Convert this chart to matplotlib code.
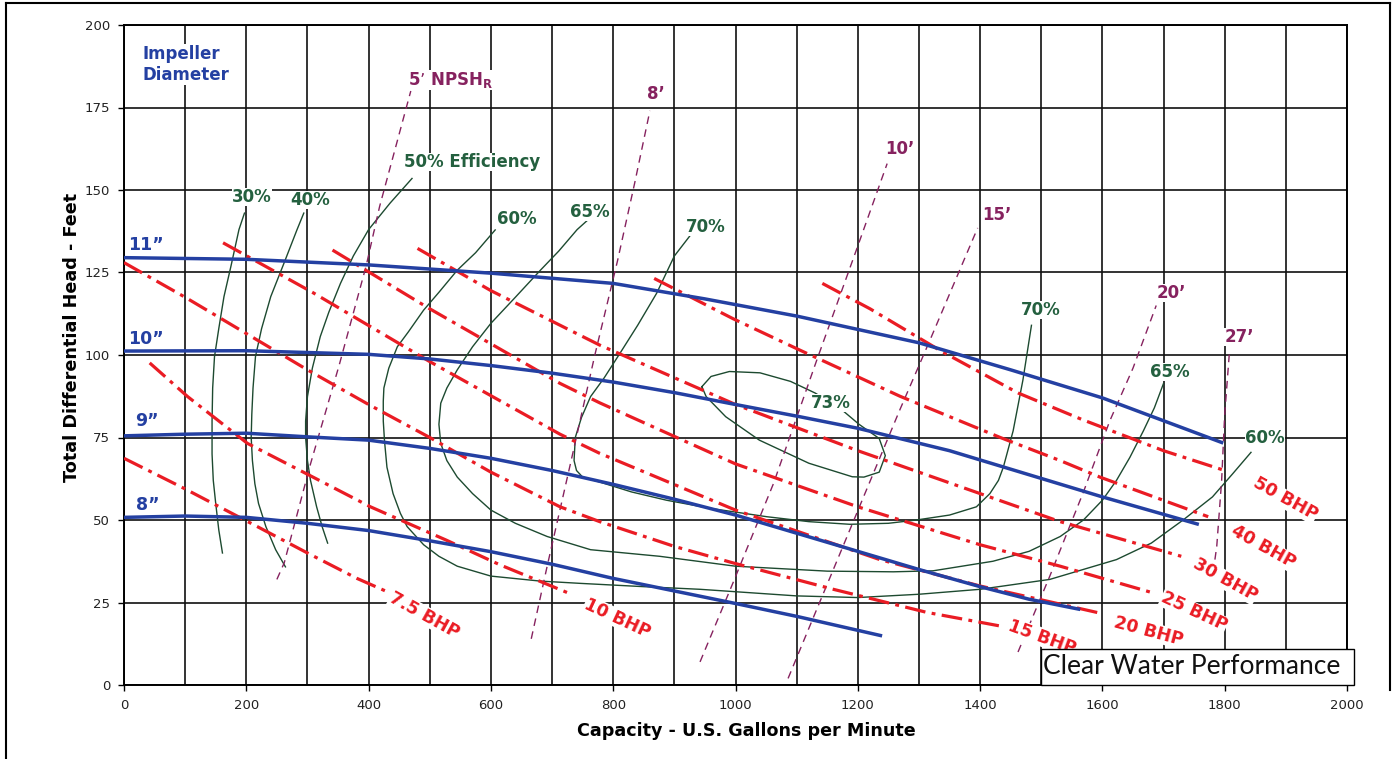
import numpy as np
import matplotlib.pyplot as plt
from matplotlib.lines import Line2D
from matplotlib.patches import Rectangle

# impeller diameter curves (gpm, ft)
d11_q = [0, 200, 400, 600, 800, 950, 1100, 1300, 1450, 1600, 1795]
d11_h = [129.5, 129, 127.3, 124.8, 121.7, 117, 111.8, 103.7, 95.5, 87, 73.5]
d10_q = [0, 200, 400, 500, 600, 700, 800, 900, 1000, 1105, 1200, 1350, 1600, 1755]
d10_h = [101.2, 101.3, 100.2, 98.8, 96.8, 94.5, 91.8, 88.6, 85, 81.3, 77.8, 71, 57, 48.8]
d9_q = [0, 100, 200, 300, 400, 500, 600, 700, 800, 900, 1000, 1100, 1200, 1300, 1400, 1480, 1561]
d9_h = [75.5, 76, 76.3, 75.2, 74.2, 71.7, 68.7, 65, 60.8, 56.3, 51.5, 46, 40.5, 35, 29.8, 26, 23]
d8_q = [0, 100, 200, 300, 400, 500, 600, 700, 800, 900, 1000, 1100, 1237]
d8_h = [50.8, 51.2, 50.8, 49, 46.8, 43.7, 40.4, 36.6, 32.3, 28.5, 24.7, 20.8, 15]

# brake horsepower lines
b75_q = [0, 98, 218, 300, 381, 430]
b75_h = [68.7, 59.6, 48, 40, 32.3, 28.3]
b10_q = [42, 104, 202, 308, 403, 527, 615, 725]
b10_h = [97.6, 87.4, 73.2, 63.1, 54, 43.9, 36.4, 28]
b15_q = [0, 100, 200, 300, 400, 500, 600, 713, 778, 900, 996, 1160, 1313, 1438]
b15_h = [128, 117.5, 106.5, 95.5, 85, 75, 64.5, 54, 49.5, 42, 37, 29, 22, 17.7]
b20_q = [162, 308, 500, 713, 778, 1000, 1236, 1400, 1598]
b20_h = [134, 119, 98, 76, 70.2, 53, 38, 30, 21.7]
b25_q = [341, 500, 713, 778, 1000, 1200, 1400, 1531, 1685]
b25_h = [131.8, 114, 91.4, 85.5, 67, 54, 42.5, 36, 27.8]
b30_q = [480, 600, 778, 1000, 1200, 1400, 1531, 1729]
b30_h = [132.3, 119.5, 103, 85, 71, 58, 49.5, 39]
b40_q = [867, 996, 1105, 1269, 1433, 1531, 1596, 1773]
b40_h = [123.2, 111, 101.5, 87.5, 75, 68, 63, 51]
b50_q = [1142, 1220, 1338, 1462, 1566, 1700, 1800]
b50_h = [121.7, 114, 101, 88.5, 80.5, 71, 65]

# NPSHr lines
n5_q = [250, 262, 305, 352, 396, 418, 469]
n5_h = [32, 37, 67, 97, 127, 145, 180]
n8_q = [666, 692, 730, 770, 807, 835, 860]
n8_h = [14, 36, 67, 100, 128.5, 152, 174]
n10_q = [942, 996, 1062, 1133, 1198, 1248]
n10_h = [7, 31, 61, 98.5, 132, 158]
n15_q = [1086, 1133, 1160, 1215, 1269, 1318, 1373, 1396]
n15_h = [2, 23, 35, 59.5, 83.5, 104.5, 128.5, 138.5]
n20_q = [1462, 1514, 1569, 1612, 1650, 1688]
n20_h = [10, 33, 58.5, 80, 96, 115]
n27_q = [1784, 1787, 1795, 1800, 1808]
n27_h = [38, 42, 62, 82, 101.5]

# efficiency curves
e30_q = [197, 188, 175, 163.5, 155, 148, 145, 144, 144, 146, 150, 155, 161]
e30_h = [143, 138, 127, 117.7, 108, 99.5, 90, 80, 70, 62, 55, 47, 40]
e40_q = [294, 283, 262, 240, 225, 215, 211, 209, 208, 210, 214, 220, 232, 248, 264]
e40_h = [143, 138, 128, 117.7, 108, 99.5, 90, 82, 75, 68, 61, 55, 48, 41, 35.8]
e50_q = [471, 435, 400, 375, 354, 335, 321, 308, 300, 297, 297, 300, 305, 315, 324, 333]
e50_h = [153.5, 146, 138, 130, 121.7, 113, 105.6, 96, 87.4, 80, 75, 68, 62, 54, 48, 43]
e60_q = [607, 575, 545, 515, 490, 465, 447, 433, 425, 424, 424, 426, 430, 440, 452, 463, 490,
         515, 545, 600, 680, 746, 850, 942, 1100, 1200, 1300, 1400, 1514, 1623, 1680, 1732,
         1780, 1813, 1843]
e60_h = [137.9, 131, 125.7, 119, 113.6, 107, 102.5, 96, 90, 86, 80, 74, 66, 58, 52, 48, 42.5,
         39, 36, 33, 31.5, 30.8, 29.8, 29, 27, 26.5, 27.5, 29, 32, 38, 43, 50, 57, 64, 70.5]
e65_q = [759, 741, 711, 681, 640, 600, 570, 545, 528, 518, 515, 518, 528, 545, 570, 600, 640,
         692, 763, 876, 1000, 1150, 1258, 1323, 1421, 1480, 1531, 1569, 1600, 1623, 1645, 1667,
         1685, 1700]
e65_h = [141, 138, 131.5, 125.7, 117.5, 109.6, 102.5, 95.5, 90, 85.4, 79, 73.2, 68, 63, 58, 53,
         49, 45, 41, 39, 36, 34.5, 34.3, 34.6, 37.5, 40.5, 45, 50, 56, 62, 69, 77, 84, 91.4]
e70_q = [925, 900, 871, 840, 811, 785, 763, 748, 738, 736, 740, 750, 778, 830, 887, 960, 1051,
         1120, 1187, 1250, 1296, 1350, 1394, 1416, 1430, 1438, 1454, 1470, 1484]
e70_h = [136, 130, 118.7, 109, 100.5, 93, 87.4, 81, 75, 68, 65, 63, 61.5, 58.5, 56, 53.5, 51,
         49.5, 48.7, 49, 50, 51.5, 54, 58, 62, 66, 77, 92.4, 109]
e73_q = [945, 960, 990, 1040, 1090, 1130, 1170, 1202, 1235, 1245, 1235, 1210, 1191, 1120, 1039,
         984, 952, 945]
e73_h = [90.4, 93.5, 95, 94.6, 92, 88.5, 84, 79, 74.7, 69.5, 64.5, 63, 63.1, 67.2, 74.2, 81.3,
         87.4, 90.4]

blue = '#2440a2'
red = '#ea1c24'
green = '#1d4a30'
green_txt = '#24603f'
purple = '#86225f'

fig = plt.figure(figsize=(13.97, 7.59), dpi=100)
ax = fig.add_axes([124 / 1397, 1 - 685 / 759, 1223 / 1397, 660 / 759])
ax.set_xlim(0, 2000)
ax.set_ylim(0, 200)

ax.set_xticks(range(0, 2001, 200))
ax.set_xticks(range(100, 2000, 200), minor=True)
ax.set_yticks(range(0, 201, 25))
ax.grid(which='both', color='#111111', lw=1.2, zorder=1)
ax.tick_params(which='major', length=4, width=1, labelsize=9.5, labelcolor='#222222', pad=6)
ax.tick_params(which='minor', length=0)
for s in ax.spines.values():
    s.set_linewidth(1.4)
ax.set_axisbelow(True)

ax.set_xlabel('Capacity - U.S. Gallons per Minute', fontsize=12.6, fontweight='bold')
ax.set_ylabel('Total Differential Head - Feet', fontsize=12.7, fontweight='bold')
ax.xaxis.set_label_coords(0.5086, -0.056)
ax.yaxis.set_label_coords(-0.035, 0.527)

bbox = dict(facecolor='white', edgecolor='none', pad=0.3)

# efficiency
for q, h in [(e30_q, e30_h), (e40_q, e40_h), (e50_q, e50_h), (e60_q, e60_h),
             (e65_q, e65_h), (e70_q, e70_h), (e73_q, e73_h)]:
    ax.plot(q, h, color=green, lw=1.0, zorder=2)

# NPSH
for q, h in [(n5_q, n5_h), (n8_q, n8_h), (n10_q, n10_h), (n15_q, n15_h),
             (n20_q, n20_h), (n27_q, n27_h)]:
    ax.plot(q, h, color=purple, lw=1.0, dashes=(5.5, 4), zorder=3)

# BHP
for q, h in [(b75_q, b75_h), (b10_q, b10_h), (b15_q, b15_h), (b20_q, b20_h),
             (b25_q, b25_h), (b30_q, b30_h), (b40_q, b40_h), (b50_q, b50_h)]:
    ax.plot(q, h, color=red, lw=2.3, dashes=(6.5, 2, 1.2, 2), zorder=4)

# impeller
for q, h in [(d11_q, d11_h), (d10_q, d10_h), (d9_q, d9_h), (d8_q, d8_h)]:
    ax.plot(q, h, color=blue, lw=2.5, zorder=5)

# labels
ax.text(31, 194, 'Impeller\nDiameter', color=blue, fontsize=12, fontweight='bold',
        ha='left', va='top', linespacing=1.25, bbox=bbox, zorder=6)
for x, y, s in [(6, 133.3, '11”'), (6, 104.8, '10”'), (19, 80, '9”'), (19, 54.5, '8”')]:
    ax.text(x, y, s, color=blue, fontsize=12.5, fontweight='bold', ha='left', va='center', zorder=6)

for x, y, s in [(209, 147.9, '30%'), (304, 147, '40%'), (569, 158.5, '50% Efficiency'),
                (643, 141.2, '60%'), (762, 143.3, '65%'), (952, 138.8, '70%'),
                (1156, 85.5, '73%'), (1500, 113.6, '70%'), (1710, 94.8, '65%'),
                (1866, 74.8, '60%')]:
    ax.text(x, y, s, color=green_txt, fontsize=12, fontweight='bold', ha='center',
            va='center', bbox=bbox, zorder=6)

for x, y, s in [(464, 183.3, '5’ NPSH$_\\mathbf{R}$'), (855, 179, '8’'), (1245, 162.4, '10’'),
                (1403, 142.4, '15’'), (1688, 118.8, '20’'), (1800, 105.5, '27’')]:
    ax.text(x, y, s, color=purple, fontsize=12, fontweight='bold', ha='left', va='center',
            bbox=bbox, zorder=6)

for x, y, s, r in [(436, 26.8, '7.5 BHP', -29), (754, 24.8, '10 BHP', -25),
                   (1446, 18.2, '15 BHP', -20), (1619, 19.1, '20 BHP', -15),
                   (1697, 26.7, '25 BHP', -25), (1750, 37, '30 BHP', -29),
                   (1812, 47, '40 BHP', -29), (1848, 61.5, '50 BHP', -29)]:
    ax.text(x, y, s, color=red, fontsize=12.5, fontweight='bold', ha='left', va='center',
            rotation=r, rotation_mode='anchor', bbox=bbox, zorder=6)

# clear water box
fig.add_artist(Rectangle((1041 / 1397, 1 - 685 / 759), 313 / 1397, 36 / 759,
                         transform=fig.transFigure, facecolor='white', edgecolor='black',
                         lw=1.0, zorder=10))
fig.text(1192 / 1397, 1 - 667 / 759, 'Clear Water Performance', family='Lato',
         fontsize=19, ha='center', va='center', color='#111111', zorder=11)

# scan frame
fig.add_artist(Line2D([6 / 1397, 6 / 1397], [0, 1 - 3 / 759], color='black', lw=1.5))
fig.add_artist(Line2D([6 / 1397, 1390 / 1397], [1 - 3 / 759, 1 - 3 / 759], color='black', lw=1.5))
fig.add_artist(Line2D([1390 / 1397, 1390 / 1397], [1 - 3 / 759, 1 - 690 / 759], color='black', lw=1.5))

fig.savefig('out.png', dpi=100)
